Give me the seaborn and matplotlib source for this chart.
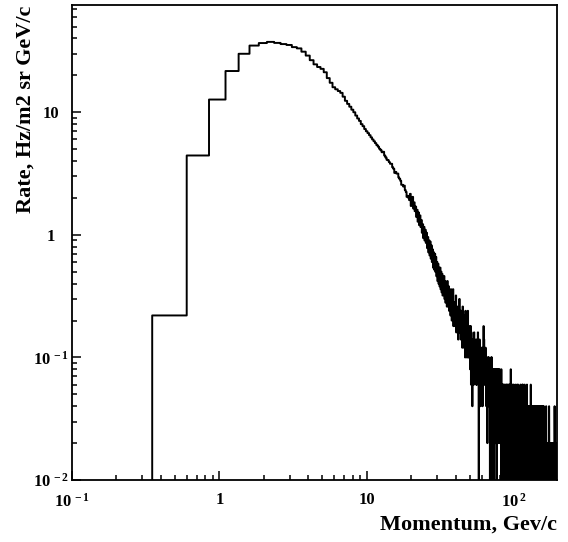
import numpy as np
import pandas as pd
import matplotlib
matplotlib.use("Agg")
import matplotlib.pyplot as plt
from matplotlib.ticker import LogLocator, NullFormatter
import seaborn as sns

# histogram binning (linear bins drawn on log axes)
momentum_start = 0.35    # lower edge of first bin, GeV/c
bin_width = 0.25         # GeV/c
rate_per_count = 0.02    # Hz/m2 sr GeV/c for one event in a bin

# events per bin, 0.35 - 19.35 GeV/c
counts_low = [11, 222, 635, 1085, 1500, 1750, 1835, 1875, 1840, 1800,
              1770, 1700, 1660, 1560, 1450, 1330, 1230, 1170, 1130, 1060,
              950, 870, 800, 770, 745, 720, 670, 620, 585, 555,
              525, 500, 470, 445, 425, 400, 385, 365, 350, 338,
              325, 312, 300, 290, 280, 270, 262, 252, 245, 236,
              238, 222, 214, 205, 203, 196, 190, 190, 178, 173,
              160, 163, 158, 158, 147, 143, 138, 128, 128, 124,
              126, 116, 112, 102, 104, 100]

# events per bin, 19.35 - 49.85 GeV/c
counts_mid = [96, 108, 86, 97, 102, 82, 92, 78,
              85, 70, 80, 64, 76, 60, 72, 58,
              66, 52, 61, 47, 58, 45, 55, 43,
              52, 39, 48, 36, 45, 34, 44, 32,
              41, 30, 38, 27, 36, 26, 35, 25,
              33, 23, 30, 21, 29, 20, 27, 19,
              27, 18, 25, 17, 24, 16, 23, 17,
              23, 15, 21, 14, 20, 16, 13, 21,
              18, 13, 19, 12, 17, 14, 11, 18,
              16, 10, 15, 12, 18, 9, 14, 11,
              14, 9, 13, 16, 8, 12, 10, 9,
              13, 7, 12, 9, 15, 8, 10, 12,
              7, 12, 8, 11, 6, 13, 9, 7,
              10, 6, 11, 7, 5, 12, 8, 6,
              9, 5, 10, 6, 12, 5, 8, 6,
              5, 9]

# events per bin from 49.85 GeV/c upward, one digit per bin
counts_tail = [
    "7459386527446385746453736458",
    "54063745263654352634937643546342",
    "425143352524430431353152043432410341431342320431412432413142",
    "21231204213231210312032210231221203121321102312012302130211423120122103201213212",
    "12211023012021102131201203101120210212012311201102101312113011021211201302110212",
    "1021210130120121102101211012012110201231",
    "1012210210120102101210211012012011202101",
    "1012012101102101201012011020120110102101",
    "1012010120210101102201021011210110120101",
    "1010110101001011010200110101101001010110",
    "1001011010210100101101001010110100101101",
    "0101001011010010110100101101001021010110",
    "1001010110100101101001010110100101101001",
]

counts = np.array(counts_low + counts_mid + [int(c) for c in "".join(counts_tail)])
edges = momentum_start + bin_width * np.arange(len(counts) + 1)
rate = counts * rate_per_count
rate = np.where(rate > 0, rate, 1e-4)  # empty bins drop to the axis

steps = pd.DataFrame({
    "momentum": np.r_[edges[0], edges],
    "rate": np.r_[1e-4, rate, rate[-1]],
})

sns.set_style("ticks")
plt.rcParams["font.family"] = ["Liberation Serif", "DejaVu Serif"]
plt.rcParams["font.weight"] = "bold"
plt.rcParams["text.color"] = "black"
plt.rcParams["mathtext.fontset"] = "custom"
plt.rcParams["mathtext.rm"] = "Liberation Serif:bold"
plt.rcParams["mathtext.it"] = "Liberation Serif:bold:italic"
plt.rcParams["mathtext.bf"] = "Liberation Serif:bold"

fig = plt.figure(figsize=(5.68, 5.42), dpi=100)
ax = fig.add_axes([72 / 568, 1 - 480 / 542, 485 / 568, 475 / 542])

sns.lineplot(data=steps, x="momentum", y="rate", estimator=None, sort=False,
             drawstyle="steps-post", color="black", lw=1.4, ax=ax)

ax.set_xscale("log")
ax.set_yscale("log")
ax.set_xlim(0.1, 195)
ax.set_ylim(0.01, 75)

ax.set_xticks([0.1, 1, 10, 100],
              labels=[r"10$^{\,-1}$", "1", "10", r"10$^{\,2}$"])
ax.set_yticks([0.01, 0.1, 1, 10],
              labels=[r"10$^{\,-2}$", r"10$^{\,-1}$", "1", "10"])
ax.xaxis.set_minor_locator(LogLocator(base=10, subs=np.arange(2, 10)))
ax.yaxis.set_minor_locator(LogLocator(base=10, subs=np.arange(2, 10)))
ax.xaxis.set_minor_formatter(NullFormatter())
ax.yaxis.set_minor_formatter(NullFormatter())

ax.tick_params(which="both", direction="in", top=False, right=False,
               width=1.1, labelsize=12, colors="black", labelcolor="black")
ax.tick_params(which="major", length=6.5)
ax.tick_params(which="minor", length=3.8)
ax.tick_params(axis="x", pad=9)
ax.tick_params(axis="y", pad=15)
for lab in ax.get_yticklabels():
    lab.set_ha("center")

for side in ["left", "bottom", "right", "top"]:
    ax.spines[side].set_visible(True)
    ax.spines[side].set_linewidth(1.3)
    ax.spines[side].set_color("black")

ax.set_xlabel("")
ax.set_ylabel("")
fig.text(0.045, 0.99, "Rate, Hz/m2 sr GeV/c", rotation=90, ha="center",
         va="top", fontsize=16, fontweight="bold", color="black")
fig.text(557 / 568, 1 - 525 / 542, "Momentum, Gev/c", ha="right",
         va="center", fontsize=16, fontweight="bold", color="black")

plt.savefig("out.png", dpi=100)
